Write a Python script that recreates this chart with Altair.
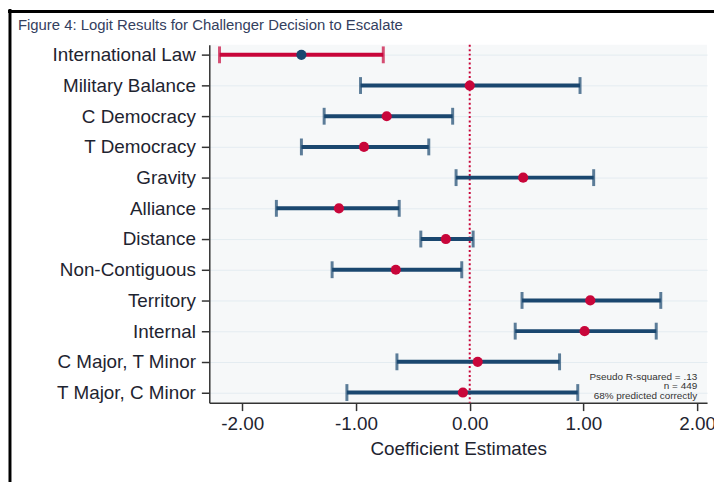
import altair as alt
import pandas as pd

variables = ["International Law", "Military Balance", "C Democracy", "T Democracy",
             "Gravity", "Alliance", "Distance", "Non-Contiguous", "Territory",
             "Internal", "C Major, T Minor", "T Major, C Minor"]
estimates = [-1.48, 0.00, -0.73, -0.93, 0.47, -1.15, -0.21, -0.65, 1.06, 1.01, 0.07, -0.06]
lower = [-2.20, -0.96, -1.28, -1.48, -0.12, -1.70, -0.43, -1.21, 0.46, 0.40, -0.64, -1.08]
upper = [-0.76, 0.97, -0.15, -0.36, 1.09, -0.62, 0.03, -0.07, 1.68, 1.64, 0.79, 0.95]
highlighted = ["International Law"]
x_ticks = [-2, -1, 0, 1, 2]
title_text = "Figure 4: Logit Results for Challenger Decision to Escalate"
notes = ["Pseudo R-squared = .13", "n = 449", "68% predicted correctly"]

NAVY = "#1a476f"
RED = "#c8063a"
FONT = "Liberation Sans"

df = pd.DataFrame({"variable": variables, "est": estimates, "lo": lower, "hi": upper})

xscale = alt.Scale(domain=[-2.29, 2.087], nice=False, zero=False)
yscale = alt.Scale(type="point", domain=variables, padding=0.33)

is_hl = alt.FieldOneOfPredicate(field="variable", oneOf=highlighted)

base = alt.Chart(df)

x_axis = alt.Axis(values=x_ticks, title="Coefficient Estimates", grid=False,
                  labelExpr="(datum.value < 0 ? '-' : '') + format(abs(datum.value), '.2f')",
                  tickSize=8, labelPadding=4, titlePadding=6)
y_axis = alt.Axis(title=None, grid=True, gridColor="#e4ecf1", gridWidth=1,
                  tickSize=8, labelPadding=6)

bars = base.mark_rule(strokeWidth=4).encode(
    x=alt.X("lo:Q", scale=xscale, axis=x_axis),
    x2="hi:Q",
    y=alt.Y("variable:N", scale=yscale, axis=y_axis, sort=variables),
    color=alt.condition(is_hl, alt.value(RED), alt.value(NAVY)),
)
caps_lo = base.mark_tick(thickness=3, size=17).encode(
    x="lo:Q", y=alt.Y("variable:N", sort=variables),
    color=alt.condition(is_hl, alt.value(RED), alt.value(NAVY)),
)
caps_hi = base.mark_tick(thickness=3, size=17).encode(
    x="hi:Q", y=alt.Y("variable:N", sort=variables),
    color=alt.condition(is_hl, alt.value(RED), alt.value(NAVY)),
)

one = alt.Chart(pd.DataFrame({"k": [0]}))

zero_line = one.mark_rule(strokeWidth=2, strokeDash=[2, 2.5], color=RED).encode(
    x=alt.datum(0)
)

points = base.mark_point(filled=True, shape="circle", size=105, opacity=1).encode(
    x="est:Q", y=alt.Y("variable:N", sort=variables),
    color=alt.condition(is_hl, alt.value(NAVY), alt.value(RED)),
)

note = one.mark_text(text="\n".join(notes), lineBreak="\n", align="right",
                     baseline="middle", fontSize=10, lineHeight=9.7,
                     font=FONT, color="#333333").encode(
    x=alt.datum(2.0), y=alt.value(335)
)

title = one.mark_text(text=title_text, align="left", baseline="alphabetic",
                      fontSize=15, font=FONT, color="#34405e").encode(
    x=alt.value(-193), y=alt.value(-15)
)

border_left = one.mark_rule(color="black", strokeWidth=3).encode(
    x=alt.value(-201), y=alt.value(-36), y2=alt.value(441)
)
border_top = one.mark_rule(color="black", strokeWidth=3).encode(
    x=alt.value(-203), x2=alt.value(512), y=alt.value(-33.5)
)

chart = alt.layer(zero_line, bars, caps_lo, caps_hi, points, note, title,
                  border_left, border_top).properties(
    width=502, height=361,
    autosize=alt.AutoSizeParams(type="none"),
    padding={"left": 203, "top": 35, "right": 7, "bottom": 79},
).configure_view(
    fill="#f6f8f9", stroke=None
).configure_axis(
    labelFont=FONT, titleFont=FONT, labelFontSize=19, titleFontSize=19,
    labelColor="#1e2430", titleColor="#1e2430", titleFontWeight="normal",
    domainColor="#333333", domainWidth=1.5, tickColor="#333333", tickWidth=1.5,
)

chart.save("out.html", embed_options={"renderer": "svg", "actions": False})
